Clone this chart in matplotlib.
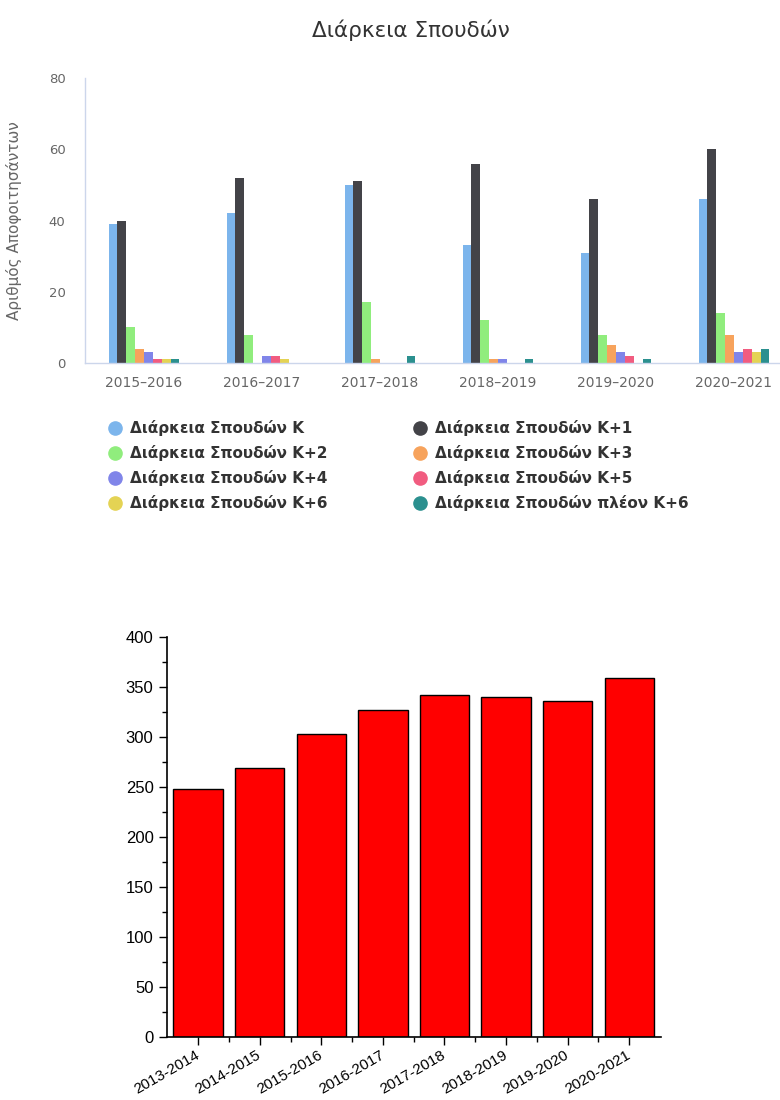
import matplotlib.pyplot as plt
import numpy as np
from matplotlib.lines import Line2D
from matplotlib.ticker import MultipleLocator

# top chart: graduates per study duration and academic year
years_top = ['2015–2016', '2016–2017', '2017–2018', '2018–2019', '2019–2020', '2020–2021']
series_names = ['Διάρκεια Σπουδών Κ', 'Διάρκεια Σπουδών Κ+1', 'Διάρκεια Σπουδών Κ+2',
                'Διάρκεια Σπουδών Κ+3', 'Διάρκεια Σπουδών Κ+4', 'Διάρκεια Σπουδών Κ+5',
                'Διάρκεια Σπουδών Κ+6', 'Διάρκεια Σπουδών πλέον Κ+6']
k_0 = [39, 42, 50, 33, 31, 46]
k_1 = [40, 52, 51, 56, 46, 60]
k_2 = [10, 8, 17, 12, 8, 14]
k_3 = [4, 0, 1, 1, 5, 8]
k_4 = [3, 2, 0, 1, 3, 3]
k_5 = [1, 2, 0, 0, 2, 4]
k_6 = [1, 1, 0, 0, 0, 3]
k_more = [1, 0, 2, 1, 1, 4]
colors = ['#7cb5ec', '#434348', '#90ed7d', '#f7a35c', '#8085e9', '#f15c80', '#e4d354', '#2b908f']

# bottom chart: totals per academic year
years_bottom = ['2013-2014', '2014-2015', '2015-2016', '2016-2017',
                '2017-2018', '2018-2019', '2019-2020', '2020-2021']
totals = [248, 269, 303, 327, 342, 340, 336, 359]

W, H = 780, 1100
fig = plt.figure(figsize=(W / 100, H / 100), dpi=100)

# ---- top chart ----
ax1 = fig.add_axes([85 / W, 1 - 363 / H, 708 / W, 285 / H])
series = [k_0, k_1, k_2, k_3, k_4, k_5, k_6, k_more]
x = np.arange(len(years_top))
w = 0.075
for j, (vals, c) in enumerate(zip(series, colors)):
    ax1.bar(x + (j - 3.5) * w, vals, width=w, color=c, linewidth=0)

ax1.set_xlim(-0.5, 5.5)
ax1.set_ylim(0, 80)
ax1.set_yticks(np.arange(0, 81, 20))
ax1.set_xticks(x)
ax1.set_xticklabels(years_top)
for s in ['top', 'right']:
    ax1.spines[s].set_visible(False)
for s in ['left', 'bottom']:
    ax1.spines[s].set_color('#ccd6eb')
    ax1.spines[s].set_linewidth(1)
ax1.tick_params(axis='both', length=0, labelcolor='#666666', labelsize=9.5)
ax1.tick_params(axis='x', labelsize=10, pad=9)
ax1.tick_params(axis='y', pad=14)
ax1.set_ylabel('Αριθμός Αποφοιτησάντων', color='#666666', fontsize=11)
ax1.yaxis.set_label_coords(-0.089, 0.5)

fig.text(411 / W, 1 - 30 / H, 'Διάρκεια Σπουδών', ha='center', va='center',
         fontsize=15.5, color='#333333')

# legend, two columns in row order
row_y = [428, 453, 478, 503]
col_x = [115, 420]
for i, (name, c) in enumerate(zip(series_names, colors)):
    cx = col_x[i % 2]
    cy = 1 - row_y[i // 2] / H
    fig.add_artist(Line2D([cx / W], [cy], marker='o', markersize=9.5, color=c,
                          linestyle='none', transform=fig.transFigure))
    fig.text((cx + 15) / W, cy, name, ha='left', va='center', fontsize=11,
             fontweight='bold', color='#333333')

# ---- bottom chart ----
ax2 = fig.add_axes([166.7 / W, 1 - 1037 / H, 494 / W, 400 / H])
xb = np.arange(len(years_bottom))
ax2.bar(xb, totals, width=0.8, color='#ff0000', edgecolor='black', linewidth=1)
ax2.set_xlim(-0.51, 7.51)
ax2.set_ylim(0, 400)
ax2.yaxis.set_major_locator(MultipleLocator(50))
ax2.yaxis.set_minor_locator(MultipleLocator(25))
ax2.set_xticks(xb)
ax2.set_xticks(xb[:-1] + 0.5, minor=True)
ax2.set_xticklabels(years_bottom, rotation=30, ha='right', va='center',
                    rotation_mode='anchor', fontsize=11, family='Liberation Sans')
for lab in ax2.get_yticklabels():
    lab.set_family('Liberation Sans')
ax2.tick_params(axis='y', labelsize=12)
ax2.tick_params(which='major', direction='out', length=6, width=1)
ax2.tick_params(which='minor', direction='out', length=3.5, width=1)
ax2.tick_params(axis='x', pad=6)
for s in ['top', 'right']:
    ax2.spines[s].set_visible(False)
for s in ['left', 'bottom']:
    ax2.spines[s].set_linewidth(1.2)

fig.savefig('out.png', dpi=100)
